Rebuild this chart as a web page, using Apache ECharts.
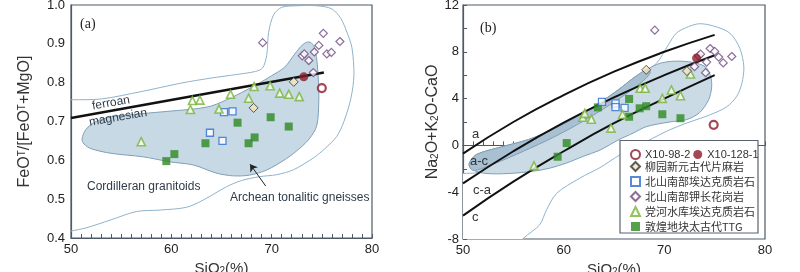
<!DOCTYPE html>
<html>
<head>
<meta charset="utf-8">
<title>SiO2 diagrams</title>
<script src="https://cdn.jsdelivr.net/npm/echarts@6.0.0/dist/echarts.min.js"></script>
<style>
html,body{margin:0;padding:0;background:#fff;}
#main{width:800px;height:272px;}
</style>
</head>
<body>
<div id="main"></div>
<script>
// ---- panel (a): SiO2 vs FeOT/(FeOT+MgO) ----
var ttgA   = [[59.5,0.598],[60.3,0.616],[63.4,0.644],[66.6,0.697],[67.7,0.644],[68.3,0.659],[69.9,0.711],[71.7,0.687]];
var adakA  = [[63.85,0.671],[65.1,0.650],[65.25,0.724],[66.1,0.726]];
var dangA  = [[57.0,0.648],[61.9,0.731],[62.1,0.754],[62.85,0.755],[64.75,0.732],[65.9,0.770],[67.7,0.760],[68.25,0.790],[69.85,0.792],[70.8,0.773],[71.7,0.770],[72.75,0.764]];
var kspA   = [[69.1,0.903],[73.05,0.869],[73.25,0.874],[73.7,0.857],[74.15,0.826],[74.25,0.879],[74.7,0.896],[75.15,0.927],[75.5,0.874],[75.95,0.878],[76.8,0.906]];
var liuA   = [[68.2,0.735],[72.2,0.802]];
var x98A   = [[75.0,0.786]];
var x128A  = [[73.2,0.815]];
var ferroanLine = [[50,0.709],[75.2,0.826]];
var cordA = [[48.5,0.756],[50,0.756],[53,0.758],[57,0.777],[61,0.799],[64,0.812],[66.5,0.821],[68.4,0.829],[69.1,0.838],[69.5,0.87],[69.7,0.93],[70.2,0.975],[71,0.994],[72.5,0.998],[74.5,0.998],[76,0.99],[76.9,0.965],[77.5,0.93],[78,0.89],[78.2,0.82],[77.9,0.76],[77.2,0.70],[76.5,0.662],[75.3,0.63],[74.2,0.607],[72.2,0.576],[70.5,0.563],[68.8,0.558],[67,0.548],[65.5,0.532],[63.2,0.498],[61.5,0.479],[58.9,0.472],[56.5,0.468],[53.9,0.446],[51.5,0.426],[50,0.418],[48.5,0.41]];
var archA = [[51.1,0.655],[51.5,0.68],[52.5,0.7],[54,0.712],[57,0.72],[60,0.727],[62.5,0.733],[64,0.74],[65,0.75],[66.5,0.768],[68.5,0.795],[70,0.818],[71.3,0.84],[72.3,0.874],[73.1,0.898],[73.7,0.905],[74.2,0.895],[74.5,0.858],[74.65,0.807],[74.7,0.755],[74.5,0.69],[73.8,0.657],[72.8,0.631],[71.5,0.605],[69.5,0.575],[67.8,0.562],[66.2,0.56],[64.5,0.567],[62.2,0.588],[59.9,0.596],[57.2,0.609],[54,0.618],[52,0.63],[51.3,0.642]];
var arrowA = [[69.4,0.534],[67.85,0.59]];

// ---- panel (b): SiO2 vs Na2O+K2O-CaO ----
var ttgB   = [[59.4,-0.97],[60.3,0.2],[63.4,3.25],[66.5,3.97],[66.5,2.45],[67.55,3.17],[68.2,3.35],[69.8,2.66],[71.6,2.32]];
var adakB  = [[63.8,3.72],[65.15,3.6],[65.15,3.27],[66.05,3.2]];
var dangB  = [[57.05,-1.75],[61.9,2.4],[62.1,2.74],[62.75,2.24],[64.7,1.48],[65.85,2.64],[67.6,4.88],[68.1,4.88],[69.8,4.02],[70.7,4.74],[71.6,4.25],[72.6,6.1]];
var kspB   = [[69.05,9.85],[73.0,6.73],[73.4,7.65],[73.6,7.8],[74.1,6.22],[74.2,7.12],[74.55,8.28],[75.0,8.03],[75.4,7.55],[75.85,7.05],[76.7,7.6]];
var liuB   = [[68.2,6.46],[72.25,6.35]];
var x98B   = [[74.9,1.76]];
var x128B  = [[73.2,7.46]];
var curveA  = [[50,-0.7],[55,2.0],[60,4.3],[65,6.3],[70,8.0],[75,9.45]];
var curveAC = [[50,-3.25],[55,-0.5],[60,1.95],[65,4.1],[70,6.0],[75,7.7]];
var curveCA = [[50,-6.0],[55,-3.1],[60,-0.5],[65,1.9],[70,4.0],[75,6.0]];
var cordB = [[47,-2.6],[50,-2.4],[51.5,-2.3],[53,-1.6],[56,-0.3],[60,1.5],[64,3.6],[67,5.6],[69.2,7.0],[70.4,8.6],[71.2,9.6],[72.4,10.15],[73.5,10.4],[74.9,10.2],[76.5,9.6],[77.5,8.3],[77.9,6.7],[77.7,5.3],[77.2,4.2],[76.2,3.3],[74.5,2.6],[72.2,1.9],[70.2,1.2],[67.5,0.0],[65.6,-0.8],[63.6,-1.9],[61.6,-2.8],[59.3,-4.1],[58.3,-5.5],[57.6,-6.8],[56,-7.94],[55,-9],[50,-10.5],[47,-7]];
var archB = [[50.6,-1.6],[51.3,-0.8],[53.5,-0.2],[56.5,0.5],[59,1.4],[61,2.3],[63.5,3.6],[65.5,4.8],[67,5.8],[68.3,6.5],[69.5,7.0],[71,7.2],[72.8,7.1],[74.1,6.7],[74.6,5.9],[74.7,5.0],[74.4,3.9],[73.5,2.8],[72.2,2.2],[70.5,2.0],[68.2,1.6],[66.9,1.05],[65.5,0.5],[63.6,-0.4],[61.9,-0.95],[60.3,-1.5],[58.6,-1.95],[57,-2.2],[54.6,-2.4],[52.3,-2.4],[51,-2.1]];
var bandB = [[50.6,-1.6],[51.3,-0.8],[53.5,-0.2],[56.5,0.5],[59,1.4],[61,2.3],[63.5,3.6],[65.5,4.8],[67,5.8],[68.3,6.5],[68.6,6.2],[67.6,5.3],[65,3.7],[62,2.1],[59,0.7],[56,-0.5],[53,-1.6],[51,-2.15]];

var names = ['X10-98-2','X10-128-1','柳园新元古代片麻岩','北山南部埃达克质岩石','北山南部钾长花岗岩','党河水库埃达克质岩石','敦煌地块太古代TTG'];

var chart = echarts.init(document.getElementById('main'));
var frame = '#4e5a68';
var font = 'Liberation Sans, Arial, sans-serif';

function polygon(idx, pts, fill, stroke, z) {
	return {
		type: 'custom', xAxisIndex: idx, yAxisIndex: idx, silent: true, clip: true, z: z,
		data: pts,
		renderItem: function (params, api) {
			if (params.dataIndex !== 0) return;
			var p = pts.map(function (d) { return api.coord(d); });
			return {type: 'polygon', shape: {points: p, smooth: 0.3}, style: {fill: fill, stroke: stroke, lineWidth: 1}};
		}
	};
}
function curve(idx, pts, width, smooth) {
	return {type: 'line', xAxisIndex: idx, yAxisIndex: idx, data: pts, smooth: smooth, symbol: 'none', silent: true, z: 3,
		lineStyle: {color: '#111', width: width}};
}
var styles = [
	{symbol: 'circle', symbolSize: 8, itemStyle: {color: '#fff', borderColor: '#8b1c2b', borderWidth: 2.2}},
	{symbol: 'circle', symbolSize: 9, itemStyle: {color: '#8b1c2b'}},
	{symbol: 'diamond', symbolSize: 9, itemStyle: {color: '#f4e3bb', borderColor: '#333', borderWidth: 1}},
	{symbol: 'rect', symbolSize: 7, itemStyle: {color: '#fff', borderColor: '#2d6bd2', borderWidth: 1.3}},
	{symbol: 'diamond', symbolSize: 8, itemStyle: {color: '#fff', borderColor: '#6e4a7e', borderWidth: 1.2}},
	{symbol: 'triangle', symbolSize: 8, itemStyle: {color: '#fbfbf0', borderColor: '#78b43a', borderWidth: 1.6}},
	{symbol: 'rect', symbolSize: 8, itemStyle: {color: '#2d8a22'}}
];
function points(idx, k, data) {
	var s = styles[k];
	return {type: 'scatter', name: names[k], xAxisIndex: idx, yAxisIndex: idx, data: data, z: 5,
		symbol: s.symbol, symbolSize: s.symbolSize, itemStyle: s.itemStyle};
}

function xAxis(idx) {
	return {
		gridIndex: idx, type: 'value', min: 50, max: 80, interval: 10,
		name: 'SiO{sub|2}(%)', nameLocation: 'middle', nameGap: 20,
		nameTextStyle: {fontSize: 15, color: '#333', fontFamily: font, rich: {sub: {fontSize: 10, verticalAlign: 'bottom', lineHeight: 10, color: '#333'}}},
		axisLine: {lineStyle: {color: frame, width: 1.2}},
		axisTick: {inside: true, length: 4, lineStyle: {color: frame}},
		minorTick: {show: true, splitNumber: 10, length: 4, lineStyle: {color: frame}},
		axisLabel: {fontSize: 13, color: '#222', fontFamily: font, margin: 5},
		splitLine: {show: false}
	};
}

var option = {
	animation: false,
	grid: [
		{left: 71, top: 5, width: 301, height: 233, show: true, borderColor: frame, borderWidth: 1.2, outerBoundsMode: 'none', containLabel: false},
		{left: 463, top: 5, width: 302, height: 234, show: true, borderColor: frame, borderWidth: 1.2, outerBoundsMode: 'none', containLabel: false}
	],
	xAxis: [xAxis(0), xAxis(1)],
	yAxis: [
		{
			gridIndex: 0, type: 'value', min: 0.4, max: 1.0, interval: 0.1,
			name: 'FeO{sup|T}/[FeO{sup|T}+MgO]', nameLocation: 'middle', nameGap: 38, nameRotate: 90,
			nameTextStyle: {fontSize: 16, color: '#333', fontFamily: font, rich: {sup: {fontSize: 10, verticalAlign: 'top', lineHeight: 10, color: '#333'}}},
			axisLine: {lineStyle: {color: frame, width: 1.2}},
			axisTick: {show: false},
			axisLabel: {fontSize: 13, color: '#222', fontFamily: font, margin: 6, formatter: function (v) { return v.toFixed(1); }},
			splitLine: {show: false}
		},
		{
			gridIndex: 1, type: 'value', min: -8, max: 12, interval: 4,
			name: 'Na{sub|2}O+K{sub|2}O-CaO', nameLocation: 'middle', nameGap: 11, nameRotate: 90,
			nameTextStyle: {fontSize: 16, color: '#333', fontFamily: font, rich: {sub: {fontSize: 10, verticalAlign: 'bottom', lineHeight: 10, color: '#333'}}},
			axisLine: {lineStyle: {color: frame, width: 1.2}},
			axisTick: {inside: true, length: 4, lineStyle: {color: frame}},
			minorTick: {show: true, splitNumber: 2, length: 4, lineStyle: {color: frame}},
			axisLabel: {fontSize: 13, color: '#222', fontFamily: font, margin: 4},
			splitLine: {show: false}
		}
	],
	legend: [
		{data: names.slice(0, 2), left: 625, top: 144, orient: 'horizontal', itemWidth: 9, itemHeight: 9, itemGap: 3, z: 20,
			selectedMode: false, textStyle: {fontSize: 11, color: '#333', fontFamily: font}},
		{data: names.slice(2), left: 625, top: 154, orient: 'vertical', itemWidth: 9, itemHeight: 9, itemGap: 0, z: 20,
			selectedMode: false, textStyle: {fontSize: 11, lineHeight: 15, color: '#333', fontFamily: 'Noto Sans CJK SC, Liberation Sans, sans-serif'}}
	],
	graphic: [
		{type: 'rect', z: 10, shape: {x: 620, y: 140.5, width: 138, height: 92.5}, style: {fill: '#fff', stroke: '#5a6270', lineWidth: 1.2}},
		{type: 'text', z: 10, left: 80, top: 17, style: {text: '(a)', fontSize: 14, fontFamily: 'Liberation Serif, serif', fill: '#222'}},
		{type: 'text', z: 10, left: 480, top: 21, style: {text: '(b)', fontSize: 14, fontFamily: 'Liberation Serif, serif', fill: '#222'}},
		{type: 'text', z: 10, x: 111, y: 103, rotation: 0.17, style: {text: 'ferroan', fontSize: 12, fontFamily: font, fill: '#2f3b4a', align: 'center', verticalAlign: 'middle'}},
		{type: 'text', z: 10, x: 118, y: 117.5, rotation: 0.17, style: {text: 'magnesian', fontSize: 12, fontFamily: font, fill: '#2f3b4a', align: 'center', verticalAlign: 'middle'}},
		{type: 'text', z: 10, left: 87, top: 181, style: {text: 'Cordilleran granitoids', fontSize: 12, fontFamily: font, fill: '#2f3b4a'}},
		{type: 'text', z: 10, left: 230, top: 192, style: {text: 'Archean tonalitic gneisses', fontSize: 12, fontFamily: font, fill: '#2f3b4a'}},
		{type: 'text', z: 10, left: 472, top: 128, style: {text: 'a', fontSize: 13, fontFamily: font, fill: '#333'}},
		{type: 'text', z: 10, left: 470, top: 155, style: {text: 'a-c', fontSize: 13, fontFamily: font, fill: '#333'}},
		{type: 'text', z: 10, left: 473, top: 184, style: {text: 'c-a', fontSize: 13, fontFamily: font, fill: '#333'}},
		{type: 'text', z: 10, left: 472, top: 211, style: {text: 'c', fontSize: 13, fontFamily: font, fill: '#333'}}
	],
	series: [
		polygon(0, cordA, 'rgba(255,255,255,0)', '#8fb2cb', 1),
		polygon(0, archA, '#c7d9e5', '#7e9fb7', 2),
		{
			type: 'line', xAxisIndex: 0, yAxisIndex: 0, data: ferroanLine, symbol: 'none', silent: true, z: 3,
			lineStyle: {color: '#111', width: 2.5},
			markLine: {
				silent: true, symbol: ['none', 'arrow'], symbolSize: 7, label: {show: false},
				lineStyle: {color: '#222', width: 1, type: 'solid'},
				data: [[{coord: arrowA[0]}, {coord: arrowA[1]}]]
			}
		},
		points(0, 6, ttgA), points(0, 3, adakA), points(0, 5, dangA), points(0, 4, kspA),
		points(0, 2, liuA), points(0, 0, x98A), points(0, 1, x128A),

		polygon(1, cordB, '#fff', '#8fb2cb', 1),
		polygon(1, archB, '#cadbe6', '#7e9fb7', 2),
		polygon(1, bandB, '#a9c0d2', '#7e9fb7', 2),
		curve(1, curveA, 2, true), curve(1, curveAC, 2, true), curve(1, curveCA, 2, true),
		points(1, 6, ttgB), points(1, 3, adakB), points(1, 5, dangB), points(1, 4, kspB),
		points(1, 2, liuB), points(1, 0, x98B), points(1, 1, x128B)
	]
};
chart.setOption(option);
</script>
</body>
</html>
